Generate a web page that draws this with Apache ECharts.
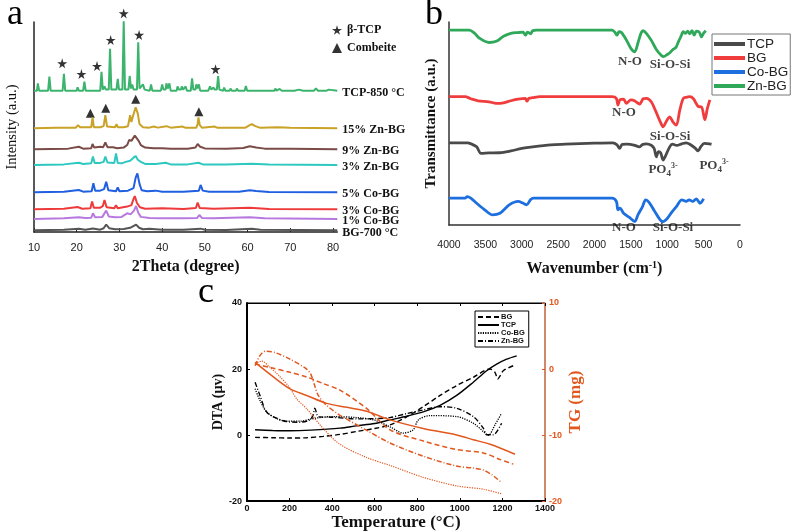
<!DOCTYPE html>
<html>
<head>
<meta charset="utf-8">
<script src="https://cdn.jsdelivr.net/npm/echarts@6/dist/echarts.min.js"></script>
<style>html,body{margin:0;padding:0;background:#fff}#c{width:794px;height:532px}</style>
</head>
<body>
<div id="c"></div>
<script>
// ---------- Panel a : XRD (2theta, relative intensity) ----------
const xrdTicks = [10, 20, 30, 40, 50, 60, 70, 80];
const xrdNames = ['TCP-850 °C', '15% Zn-BG', '9% Zn-BG', '3% Zn-BG', '5% Co-BG', '3% Co-BG', '1% Co-BG', 'BG-700 °C'];
const xrdOffsets = [67.3, 49.4, 39.4, 31.9, 18.9, 10.8, 6.2, 0.8];
const xrdTcp850 = [[10,0],[10.7,0],[10.9,3.5],[11.2,0],[13.3,0],[13.6,6.7],[13.9,0],[16.7,0],[17.0,8],[17.3,0],[20.0,0],[20.2,1.6],[20.5,0],[21.5,0],[21.8,4.3],[22.1,0],[25.5,0],[25.8,9],[26.1,0.5],[26.5,2],[26.8,0.5],[27.5,0.5],[27.8,20],[28.1,0.5],[29.3,0.5],[29.6,5.6],[29.9,0.5],[30.7,0.5],[31.0,33],[31.3,0.5],[32.1,0.5],[32.4,7],[32.7,1],[33.0,3],[33.3,0.5],[34.1,0.5],[34.4,23],[34.7,1],[35.1,1],[35.5,3],[35.9,0.5],[37.1,0],[37.4,3],[37.7,0],[39.7,0],[40.0,3],[40.3,0.5],[40.8,0.5],[41.0,3.5],[41.3,1],[41.7,3.5],[42.0,0],[43.4,0],[43.6,2],[43.9,0.5],[44.4,0.5],[44.6,2],[44.9,0.5],[45.3,0.5],[45.5,2],[45.8,0],[46.7,0],[47.0,5.9],[47.3,0.5],[47.8,0.5],[48.0,3],[48.3,1],[48.6,3],[48.9,0],[50.8,0],[51.2,2],[51.5,0.5],[52.0,1.5],[52.3,0.5],[52.8,0.5],[53.1,7],[53.4,0.5],[54.3,0],[54.5,1.5],[54.8,0],[55.8,0],[56.0,1],[56.3,0],[57.3,0],[57.5,1],[57.8,0],[59.3,0],[59.6,2.2],[59.9,0],[62.8,0],[63,0.8],[63.3,0],[64.8,0],[65,0.8],[65.3,0],[66.3,0],[66.5,1],[66.8,0],[67.5,0.8],[68,0],[71,0],[72,0.5],[73,0],[75.5,0],[76,1],[76.5,0],[78.5,0],[79,0.5],[81,0]];
const xrdZn15 = [[10,0],[15,0.3],[19.8,0.3],[20.3,1.5],[20.8,0.5],[22,0.5],[23.4,0.5],[23.7,5.2],[24.0,0.5],[25.5,0.5],[26.3,1],[26.7,6.3],[27.1,0.8],[29,0.5],[29.3,2],[29.6,0.5],[31,0.5],[32.0,1],[32.5,6.2],[32.8,3],[33.2,6],[33.8,10],[34.3,7],[34.7,2],[35.0,1.2],[35.5,0.5],[37,0.3],[38,0.8],[39,0.3],[41,1],[42,0.3],[44.8,0.8],[45.5,0.2],[48.0,0.3],[48.3,2],[48.5,5.2],[48.8,1.5],[49.3,0.3],[52.3,0.8],[53,0.2],[59.5,0.3],[60.5,1.5],[61,2],[61.8,1],[63,0.2],[67,0.5],[70,0.2],[81,0]];
const xrdZn9 = [[10,0],[18,0.3],[20.5,1.2],[21.5,0.3],[23.4,0.5],[23.7,2.5],[24.1,0.8],[25.5,1.2],[26.2,1],[26.7,3.2],[27.2,1],[28.5,1],[29.5,0.5],[31,0.8],[31.8,2],[32.3,4.5],[32.8,4],[33.6,6.5],[34.0,6.8],[34.5,4],[35,2],[36,0.8],[38,0.5],[40,0.5],[42,0.3],[46,0.2],[47.8,0.8],[48.3,2.5],[48.9,1.2],[50,0.4],[55,0.3],[59,0.6],[60.5,1.4],[62,0.8],[64,0.3],[70,0.2],[81,0]];
const xrdZn3 = [[10,0],[17,0.3],[20.5,1.1],[21.5,0.5],[23.4,0.8],[23.8,4],[24.2,1],[25.5,1],[26.3,1.5],[26.7,4],[27.2,1.2],[28.8,1],[29.2,5.5],[29.6,1],[30.5,0.8],[31.5,1.5],[32.5,2],[33.3,3.5],[33.8,4.3],[34.3,2.5],[35,1.5],[36,0.5],[38.5,0.5],[40.8,1.1],[42,0.3],[46,0.3],[48.5,1.1],[49.5,0.3],[55,0.2],[61,0.6],[65,0.2],[81,0]];
const xrdCo5 = [[10,0],[17,0.3],[20.5,1.1],[21.5,0.3],[23.5,0.5],[23.9,4.3],[24.3,0.8],[25.5,0.8],[26.4,1.5],[26.9,5],[27.4,1],[29.2,0.5],[29.6,2.4],[30,0.5],[32,0.8],[33.3,2],[33.8,7],[34.2,9],[34.7,4],[35.2,1],[36.5,0.5],[38.5,0.8],[40,0.3],[45,0.3],[48.6,0.8],[49,3.5],[49.5,0.8],[51,0.3],[58,0.3],[60.5,1],[62,0.6],[65,0.2],[81,0]];
const xrdCo3 = [[10,0],[17,0.3],[20.2,1.1],[21.3,0.3],[23.2,0.5],[23.6,3.7],[24,0.7],[25.5,0.8],[26.1,1.5],[26.5,4.4],[27,1],[28.8,0.5],[29.2,1.9],[29.6,0.5],[31.8,1.3],[32.8,2],[33.3,5],[33.6,6.3],[34.1,3],[34.8,1],[36,0.3],[40,0.5],[45,0.2],[47.9,0.6],[48.3,3.2],[48.8,0.6],[52,0.3],[60.5,0.7],[65,0.2],[81,0]];
const xrdCo1 = [[10,0],[17,0.3],[20.5,0.8],[22,0.5],[23.4,0.6],[23.8,2.7],[24.3,0.8],[26,1],[26.9,4],[27.5,1.2],[29,0.8],[30.5,1],[31.8,2.7],[32.6,2.2],[33.4,4],[33.9,6.2],[34.4,3],[35,1],[37,0.5],[40,0.3],[45,0.3],[48.2,0.5],[48.7,1.9],[49.3,0.5],[52,0.3],[60.5,0.8],[64,0.3],[81,0]];
const xrdBg700 = [[10,0],[17,0.3],[20.5,0.8],[22,0.3],[23.8,0.9],[25.5,0.3],[26.3,1],[26.9,2.7],[27.6,1],[29,0.5],[31,0.6],[32.5,1.2],[33.9,2.7],[34.6,1.2],[35.5,0.5],[37,0.7],[40,0.3],[45,0.3],[49,0.8],[50,0.3],[55,0.2],[61,0.8],[63,0.3],[81,0]];
const xrdStars = [[16.6,80.3],[21.1,75.2],[24.75,79],[27.95,91.4],[31.0,104.1],[34.6,93.8],[52.5,77.5]];
const xrdTriangles = [[23.2,56.5],[26.8,58.9],[33.8,63.2],[48.6,57.3]];

// ---------- Panel b : FTIR (wavenumber, relative transmittance) ----------
const ftirTicks = [4000, 3500, 3000, 2500, 2000, 1500, 1000, 500, 0];
const ftirNames = ['TCP', 'BG', 'Co-BG', 'Zn-BG'];
const ftirOffsets = [40.5, 63.2, 13.2, 96];
const ftirTcp = [[4000,0],[3740,0],[3700,-0.5],[3620,-2],[3560,-5.2],[3450,-5],[3300,-4.9],[3150,-4],[3000,-2.8],[2850,-2],[2600,-1],[2400,-0.7],[2000,-0.2],[1750,0],[1690,-1],[1655,-2.8],[1620,-0.8],[1550,-0.7],[1460,-1.1],[1380,-2],[1340,-0.8],[1287,-0.5],[1220,-1.2],[1180,-2.8],[1150,-6.9],[1120,-4.4],[1090,-5],[1057,-8.5],[1030,-6.9],[966,-2],[930,-0.7],[870,-1.3],[800,-0.5],[740,0],[690,-0.7],[620,-2.5],[575,-4],[540,-2],[490,-0.3],[420,-0.5],[391,-0.7]];
const ftirBg = [[4000,0],[3780,0],[3700,-1],[3600,-2],[3450,-2.5],[3350,-3.3],[3250,-3],[3150,-2],[3050,-1.2],[2950,-0.8],[2930,-2.2],[2900,-0.8],[2850,-0.5],[2750,0],[1760,0],[1700,-0.8],[1678,-4.1],[1650,-1.5],[1600,-1.2],[1563,-3.3],[1500,-1.6],[1450,-2],[1379,-3.6],[1330,-1],[1287,-0.8],[1220,-2.5],[1160,-7],[1100,-12],[1057,-14.8],[1010,-12],[966,-9.9],[920,-12.5],[874,-14],[830,-7],[782,-1],[740,-0.3],[690,0],[640,-1],[600,-3.5],[570,-4.9],[530,-5],[483,-11.3],[450,-6],[414,-1.6]];
const ftirCoBg = [[4000,0],[3780,0],[3750,0.8],[3700,0],[3620,-2.5],[3500,-6],[3402,-8.2],[3300,-7.4],[3172,-3.3],[3050,-1.6],[2980,-2.5],[2933,-3.3],[2880,-0.8],[2840,0],[1760,0],[1700,-1.5],[1678,-5.7],[1650,-4.9],[1600,-7.4],[1520,-9.5],[1448,-11.5],[1400,-8],[1340,-4.1],[1297,-0.8],[1250,-2],[1180,-6],[1100,-10.5],[1057,-11.5],[1000,-10],[940,-7],[874,-4.1],[800,-0.8],[740,-1.6],[700,-0.8],[650,-1.6],[600,-0.3],[550,-2.5],[500,-0.3]];
const ftirZnBg = [[4000,0],[3720,0],[3650,-1.5],[3580,-4],[3450,-6.1],[3350,-5.5],[3250,-3],[3150,-1.6],[3050,-1.2],[2980,-1],[2950,-2.5],[2920,-1],[2880,-1.8],[2850,-0.3],[2800,0],[1760,0],[1720,-1],[1690,-2.5],[1665,-0.8],[1630,-1.2],[1560,-5],[1500,-9],[1448,-10.7],[1400,-6],[1360,-1.5],[1333,-0.3],[1290,-1.5],[1220,-5],[1150,-9.5],[1080,-12.5],[1050,-13.1],[1000,-12],[960,-11],[920,-9.5],[880,-8.5],[850,-6],[810,-3],[780,-0.8],[750,-1.6],[720,-0.5],[690,-1.8],[660,-0.3],[630,-2.5],[600,-0.5],[560,-1],[530,-3.3],[500,-1.5],[470,-0.3]];
const ftirAnnotations = [[1512,80.3,'N-O'],[962,78.8,'Si-O-Si'],[1594,55.2,'N-O'],[962,43.3,'Si-O-Si'],[1058,27.1,'PO4'],[357,29,'PO4'],[1594,-1.5,'N-O'],[921,-1.5,'Si-O-Si']];

// ---------- Panel c : DTA / TG (temperature) ----------
const thermTicks = [0, 200, 400, 600, 800, 1000, 1200, 1400];
const thermNames = ['BG', 'TCP', 'Co-BG', 'Zn-BG'];
const dtaBg = [[38,-0.7],[120,-0.8],[202,-0.9],[280,-0.8],[358,-0.4],[437,0.2],[515,1.1],[600,2],[672,3.1],[750,5.5],[828,8.6],[907,12],[985,15],[1063,17.5],[1142,20],[1165,19],[1178,17],[1190,18],[1204,19.5],[1251,21]];
const dtaTcp = [[38,1.6],[120,1.4],[202,1.3],[300,1.5],[437,2.1],[515,2.8],[600,3.5],[672,4.6],[750,5.7],[828,7],[907,9],[985,12],[1063,16],[1126,19.5],[1173,21.5],[1220,23],[1267,24]];
const dtaCoBg = [[38,14],[61,10.5],[92,7],[139,5],[186,4.2],[249,4.2],[296,4.8],[330,5.2],[400,5.6],[515,5.3],[600,4.5],[672,2.5],[734,0.6],[781,1.6],[805,4.6],[860,5.9],[985,5.6],[1063,3.6],[1110,1.1],[1134,-0.1],[1165,3.1],[1196,6.6]];
const dtaZnBg = [[38,16],[61,12],[92,7],[139,5.1],[186,4.1],[249,3.9],[296,4.6],[310,6],[319,8.1],[330,6],[340,5.5],[400,5.4],[515,4.9],[600,5],[672,5.3],[750,6.5],[828,7.6],[907,8.6],[985,8.1],[1063,5.6],[1110,2.1],[1126,0.1],[1157,0.1],[1196,3.6]];
const tgBg = [[38,0.75],[108,0.25],[202,-0.5],[280,-1.2],[358,-2.2],[437,-3.2],[563,-6],[672,-9.2],[828,-10.9],[985,-12.2],[1110,-12.7],[1189,-13.7],[1251,-14.4]];
const tgTcp = [[38,1],[124,-1.2],[202,-3],[280,-4],[374,-5.2],[470,-5.8],[563,-6.4],[672,-7.7],[828,-9],[985,-10],[1063,-10.7],[1142,-11.4],[1259,-12.9]];
const tgCoBg = [[38,0.8],[70,1.2],[100,0.5],[150,-1],[200,-2.8],[233,-4.5],[280,-6],[358,-9],[437,-11.4],[562,-13.4],[672,-14.6],[828,-16.4],[985,-17.7],[1110,-18.2],[1196,-18.9]];
const tgZnBg = [[38,0.5],[60,2],[85,2.7],[130,2.5],[202,1.5],[280,0],[300,-0.8],[318,-2.5],[335,-4],[374,-5.5],[437,-7],[480,-7.8],[563,-9.3],[672,-11.2],[828,-13.2],[985,-14.7],[1063,-15],[1110,-15.3],[1150,-16],[1196,-17.2]];

// ---------- styles ----------
const SERIF = 'Liberation Serif';
const SANS = 'Liberation Sans';
const xrdColors = ['#3cb46e', '#c9a227', '#7a4b47', '#2fc8c0', '#1f5fe0', '#ee3a3a', '#b779e0', '#555555'];
const ftirColors = ['#4a4a4a', '#f03c3c', '#1d6fe0', '#2fa85a'];
const ORANGE = '#e2571e';
const dashTypes = [[5, 3], 'solid', [1.2, 1.2], [5, 2, 1, 2]];
const starPath = 'path://M50,0 L61,35 L98,35 L68,57 L79,91 L50,70 L21,91 L32,57 L2,35 L39,35 Z';
const plain = v => String(v);

const xrdSets = [xrdTcp850, xrdZn15, xrdZn9, xrdZn3, xrdCo5, xrdCo3, xrdCo1, xrdBg700];
const ftirSets = [ftirTcp, ftirBg, ftirCoBg, ftirZnBg];
const dtaSets = [dtaBg, dtaTcp, dtaCoBg, dtaZnBg];
const tgSets = [tgBg, tgTcp, tgCoBg, tgZnBg];

const series = [];
xrdSets.forEach((set, i) => {
  series.push({
    name: xrdNames[i], type: 'line', xAxisIndex: 0, yAxisIndex: 0,
    data: set.map(p => [p[0], p[1] + xrdOffsets[i]]),
    showSymbol: false, symbol: 'none', silent: true,
    lineStyle: { color: xrdColors[i], width: 2 }, itemStyle: { color: xrdColors[i] },
    endLabel: { show: true, formatter: '{a}', distance: 5, offset: [0, i === 7 ? 3 : 2],
      color: '#111', fontFamily: SERIF, fontWeight: 'bold', fontSize: 12 }
  });
});
series.push({ name: 'β-TCP', type: 'scatter', xAxisIndex: 0, yAxisIndex: 0, data: xrdStars,
  symbol: starPath, symbolSize: 10, itemStyle: { color: '#000' }, clip: false, silent: true });
series.push({ name: 'Combeite', type: 'scatter', xAxisIndex: 0, yAxisIndex: 0, data: xrdTriangles,
  symbol: 'triangle', symbolSize: 9, itemStyle: { color: '#000' }, clip: false, silent: true });

ftirSets.forEach((set, i) => {
  series.push({
    name: 'FTIR-' + ftirNames[i], type: 'line', xAxisIndex: 1, yAxisIndex: 1,
    data: set.map(p => [p[0], p[1] + ftirOffsets[i]]),
    showSymbol: false, symbol: 'none', smooth: 0.3, silent: true,
    lineStyle: { color: ftirColors[i], width: 2.8 }, itemStyle: { color: ftirColors[i] }
  });
});
series.push({
  name: 'ftir-notes', type: 'scatter', xAxisIndex: 1, yAxisIndex: 1, symbolSize: 0, clip: false, silent: true,
  data: ftirAnnotations,
  label: { show: true, position: 'inside', color: '#111', fontFamily: SERIF, fontWeight: 'bold', fontSize: 13,
    formatter: p => p.data[2] === 'PO4' ? 'PO{sub|4}{sup|3-}' : p.data[2],
    rich: { sub: { fontFamily: SERIF, fontWeight: 'bold', fontSize: 9, padding: [8, 0, 0, 0], color: '#111' },
            sup: { fontFamily: SERIF, fontWeight: 'bold', fontSize: 8, padding: [0, 0, 8, 0], color: '#111' } } }
});

dtaSets.forEach((set, i) => {
  series.push({
    name: 'DTA-' + thermNames[i], type: 'line', xAxisIndex: 2, yAxisIndex: 2, data: set,
    showSymbol: false, symbol: 'none', smooth: 0.3, silent: true,
    lineStyle: { color: '#000', width: i === 2 ? 1.3 : 1.4, type: dashTypes[i] }, itemStyle: { color: '#000' }
  });
});
tgSets.forEach((set, i) => {
  series.push({
    name: 'TG-' + thermNames[i], type: 'line', xAxisIndex: 2, yAxisIndex: 3, data: set,
    showSymbol: false, symbol: 'none', smooth: 0.3, silent: true,
    lineStyle: { color: ORANGE, width: i === 2 ? 1.2 : 1.5, type: dashTypes[i] }, itemStyle: { color: ORANGE }
  });
});

const option = {
  animation: false,
  backgroundColor: '#fff',
  grid: [
    { left: 34, top: 22, width: 303.3, height: 210 },
    { left: 449, top: 22, width: 291, height: 203 },
    { left: 247, top: 303, width: 298, height: 201, show: true, borderColor: '#000', borderWidth: 1 }
  ],
  xAxis: [
    { gridIndex: 0, type: 'value', min: 10, max: 81, interval: 10,
      axisLine: { onZero: false, lineStyle: { color: '#222', width: 1.5 } },
      axisTick: { inside: true, length: 4, customValues: xrdTicks, lineStyle: { color: '#222' } },
      axisLabel: { customValues: xrdTicks, formatter: plain, color: '#222', fontFamily: SANS, fontSize: 11, margin: 10 },
      splitLine: { show: false },
      name: '2Theta (degree)', nameLocation: 'middle', nameGap: 27,
      nameTextStyle: { fontFamily: SERIF, fontWeight: 'bold', fontSize: 16, color: '#111' } },
    { gridIndex: 1, type: 'value', min: 0, max: 4000, interval: 500, inverse: true,
      axisLine: { onZero: false, lineStyle: { color: '#333', width: 1.5 } }, axisTick: { show: false },
      axisLabel: { customValues: ftirTicks, formatter: plain, color: '#222', fontFamily: SANS, fontSize: 10.5, margin: 15 },
      splitLine: { show: false },
      name: 'Wavenumber (cm{sup|-1})', nameLocation: 'middle', nameGap: 35,
      nameTextStyle: { fontFamily: SERIF, fontWeight: 'bold', fontSize: 16, color: '#111',
        rich: { sup: { fontFamily: SERIF, fontWeight: 'bold', fontSize: 10, padding: [0, 0, 8, 0], color: '#111' } } } },
    { gridIndex: 2, type: 'value', min: 0, max: 1400, interval: 200, position: 'bottom',
      axisLine: { onZero: false, lineStyle: { color: '#000', width: 2 } },
      axisTick: { inside: true, length: 3, customValues: thermTicks, lineStyle: { color: '#000' } },
      axisLabel: { customValues: thermTicks, formatter: plain, color: '#111', fontFamily: SANS, fontWeight: 'bold', fontSize: 9, margin: 3 },
      splitLine: { show: false },
      name: 'Temperature (°C)', nameLocation: 'middle', nameGap: 10,
      nameTextStyle: { fontFamily: SERIF, fontWeight: 'bold', fontSize: 17, color: '#111' } },
    { gridIndex: 2, type: 'value', min: 0, max: 1400, interval: 200, position: 'top',
      axisLine: { onZero: false, lineStyle: { color: '#000', width: 1 } },
      axisTick: { inside: true, length: 3, lineStyle: { color: '#000' } },
      axisLabel: { show: false }, splitLine: { show: false } }
  ],
  yAxis: [
    { gridIndex: 0, type: 'value', min: 0, max: 100,
      axisLine: { show: true, onZero: false, lineStyle: { color: '#222', width: 1.5 } }, axisTick: { show: false },
      axisLabel: { show: false }, splitLine: { show: false },
      name: 'Intensity (a.u.)', nameLocation: 'middle', nameGap: 14,
      nameTextStyle: { fontFamily: SERIF, fontSize: 14.5, color: '#111' } },
    { gridIndex: 1, type: 'value', min: 0, max: 100,
      axisLine: { show: true, onZero: false, lineStyle: { color: '#333', width: 1.5 } }, axisTick: { show: false },
      axisLabel: { show: false }, splitLine: { show: false },
      name: 'Transmittance (a.u.)', nameLocation: 'middle', nameGap: 10,
      nameTextStyle: { fontFamily: SERIF, fontWeight: 'bold', fontSize: 15, color: '#111' } },
    { gridIndex: 2, type: 'value', min: -20, max: 40, interval: 20, position: 'left',
      axisLine: { show: true, onZero: false, lineStyle: { color: '#000', width: 2 } },
      axisTick: { inside: true, length: 3, lineStyle: { color: '#000' } },
      axisLabel: { color: '#111', fontFamily: SANS, fontWeight: 'bold', fontSize: 9, margin: 5 },
      splitLine: { show: false },
      name: 'DTA (µv)', nameLocation: 'middle', nameGap: 22,
      nameTextStyle: { fontFamily: SERIF, fontWeight: 'bold', fontSize: 14, color: '#111' } },
    { gridIndex: 2, type: 'value', min: -20, max: 10, interval: 10, position: 'right',
      axisLine: { show: true, onZero: false, lineStyle: { color: '#ee8a60', width: 1.5 } },
      axisTick: { inside: true, length: 3, lineStyle: { color: ORANGE } },
      axisLabel: { color: ORANGE, fontFamily: SANS, fontWeight: 'bold', fontSize: 9, margin: 4 },
      splitLine: { show: false },
      name: 'TG (mg)', nameLocation: 'middle', nameGap: 22, nameRotate: 90,
      nameTextStyle: { fontFamily: SERIF, fontWeight: 'bold', fontSize: 17, color: ORANGE } }
  ],
  legend: [
    { data: ['β-TCP', 'Combeite'], orient: 'vertical', left: 332, top: 24, selectedMode: false,
      itemWidth: 10, itemHeight: 10, itemGap: 6, padding: 0,
      textStyle: { fontFamily: SERIF, fontWeight: 'bold', fontSize: 12, color: '#111' } },
    { data: ftirNames.map(n => 'FTIR-' + n), orient: 'vertical', left: 712, top: 34, selectedMode: false,
      formatter: n => n.replace('FTIR-', ''), icon: 'rect', itemWidth: 31, itemHeight: 4, itemGap: 0,
      padding: [3, 2, 2, 2], borderColor: '#777', borderWidth: 1,
      textStyle: { fontFamily: SANS, fontSize: 13.5, color: '#222', lineHeight: 14, padding: [0, 0, 0, -3] } },
    { data: thermNames.map(n => 'DTA-' + n), orient: 'vertical', left: 475, top: 311, selectedMode: false,
      formatter: n => n.replace('DTA-', ''), itemWidth: 21, itemHeight: 6, itemGap: 0,
      itemStyle: { opacity: 0 },
      padding: [2, 4, 2, 2], borderColor: '#000', borderWidth: 1,
      textStyle: { fontFamily: SANS, fontWeight: 'bold', fontSize: 7.5, color: '#111', lineHeight: 7, padding: [0, 0, 0, -3] } }
  ],
  graphic: [
    { type: 'text', x: 15, y: 15, style: { text: 'a', font: '36px "Liberation Serif"', fill: '#000', align: 'center', verticalAlign: 'middle' } },
    { type: 'text', x: 434, y: 15, style: { text: 'b', font: '36px "Liberation Serif"', fill: '#000', align: 'center', verticalAlign: 'middle' } },
    { type: 'text', x: 206, y: 293, style: { text: 'c', font: '36px "Liberation Serif"', fill: '#000', align: 'center', verticalAlign: 'middle' } }
  ],
  series: series
};

const chart = echarts.init(document.getElementById('c'), null, { renderer: 'canvas' });
chart.setOption(option);
</script>
</body>
</html>
